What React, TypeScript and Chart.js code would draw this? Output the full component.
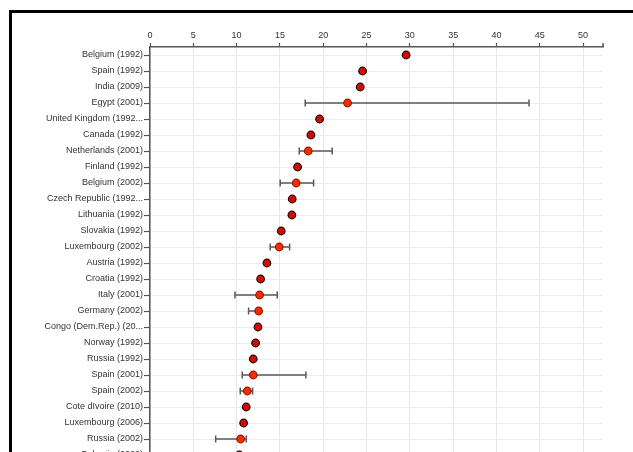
import React, { useEffect, useRef } from "react";
import { Chart, registerables } from "chart.js";

Chart.register(...registerables);

const categories = [
  "Belgium (1992)", "Spain (1992)", "India (2009)", "Egypt (2001)",
  "United Kingdom (1992...", "Canada (1992)", "Netherlands (2001)", "Finland (1992)",
  "Belgium (2002)", "Czech Republic (1992...", "Lithuania (1992)", "Slovakia (1992)",
  "Luxembourg (2002)", "Austria (1992)", "Croatia (1992)", "Italy (2001)",
  "Germany (2002)", "Congo (Dem.Rep.) (20...", "Norway (1992)", "Russia (1992)",
  "Spain (2001)", "Spain (2002)", "Cote dIvoire (2010)", "Luxembourg (2006)",
  "Russia (2002)", "Bulgaria (2002)",
];
const values = [
  29.57, 24.54, 24.27, 22.81, 19.58, 18.58, 18.27, 17.04, 16.88, 16.42, 16.38, 15.15, 14.92,
  13.5, 12.77, 12.65, 12.54, 12.46, 12.19, 11.92, 11.92, 11.23, 11.11, 10.81, 10.46, 10.3,
];
const lows: (number | null)[] = [
  null, null, null, 17.92, null, null, 17.23, null, 15.03, null, null, null, 13.88,
  null, null, 9.81, 11.38, null, null, null, 10.65, 10.42, null, null, 7.58, null,
];
const highs: (number | null)[] = [
  null, null, null, 43.76, null, null, 21.03, null, 18.89, null, null, null, 16.12,
  null, null, 14.69, 12.8, null, null, null, 18.0, 11.85, null, null, 11.11, null,
];
const xMin = 0;
const xMax = 52.3;
const xStep = 5;

const errorBarPlugin = {
  id: "errorBars",
  beforeDatasetsDraw(chart: any) {
    const { ctx, scales, chartArea } = chart;
    const xs = scales.x;
    const ys = scales.y;
    ctx.save();
    ctx.strokeStyle = "#5a5a5a";
    ctx.lineWidth = 1.5;
    for (let i = 0; i < categories.length; i++) {
      const lo = lows[i];
      const hi = highs[i];
      if (lo == null || hi == null) continue;
      const y = ys.getPixelForValue(i);
      const x1 = xs.getPixelForValue(lo);
      const x2 = xs.getPixelForValue(hi);
      ctx.beginPath();
      ctx.moveTo(x1, y);
      ctx.lineTo(x2, y);
      ctx.moveTo(x1, y - 3.5);
      ctx.lineTo(x1, y + 3.5);
      ctx.moveTo(x2, y - 3.5);
      ctx.lineTo(x2, y + 3.5);
      ctx.stroke();
    }
    ctx.beginPath();
    ctx.strokeStyle = "#555";
    ctx.lineWidth = 1.5;
    ctx.moveTo(chartArea.right, chartArea.top - 4);
    ctx.lineTo(chartArea.right, chartArea.top);
    ctx.stroke();
    ctx.restore();
  },
};

export default function App() {
  const ref = useRef<HTMLCanvasElement | null>(null);
  useEffect(() => {
    if (!ref.current) return;
    const hasErr = (i: number) => lows[i] != null;
    const chart = new Chart(ref.current, {
      type: "line",
      data: {
        labels: categories,
        datasets: [
          {
            data: values,
            showLine: false,
            pointRadius: 3.8,
            pointHoverRadius: 3.8,
            pointBorderWidth: 1.2,
            pointBackgroundColor: (c: any) => (hasErr(c.dataIndex) ? "#ff2a00" : "#cc1100"),
            pointBorderColor: (c: any) => (hasErr(c.dataIndex) ? "#8a1a00" : "#2a0000"),
          },
        ],
      },
      options: {
        indexAxis: "y",
        responsive: false,
        animation: false,
        layout: { padding: { left: 0, top: 0, right: 49, bottom: 20 } },
        plugins: { legend: { display: false }, tooltip: { enabled: false } },
        scales: {
          x: {
            type: "linear",
            position: "top",
            min: xMin,
            max: xMax,
            afterFit: (s: any) => {
              s.height = 34;
            },
            ticks: {
              stepSize: xStep,
              includeBounds: false,
              color: "#333",
              font: { family: "Arial, 'Liberation Sans', sans-serif", size: 9 },
              padding: 2,
              maxRotation: 0,
            },
            grid: {
              color: "#e6e6e6",
              lineWidth: 1,
              tickLength: 4,
              tickColor: "#555",
              tickWidth: 1.2,
            },
            border: { color: "#555", width: 1.5 },
          },
          y: {
            type: "category",
            offset: true,
            afterFit: (s: any) => {
              s.width = 138;
            },
            ticks: {
              color: "#333",
              font: { family: "Arial, 'Liberation Sans', sans-serif", size: 9 },
              padding: 1,
              autoSkip: false,
            },
            grid: {
              offset: false,
              color: "#ececec",
              lineWidth: 1,
              tickLength: 6,
              tickColor: "#555",
              tickWidth: 1.2,
            },
            border: { color: "#555", width: 1.5 },
          },
        },
      },
      plugins: [errorBarPlugin],
    } as any);
    return () => chart.destroy();
  }, []);

  return (
    <div style={{ position: "fixed", left: 0, top: 0, width: 633, height: 452, overflow: "hidden", background: "#fff" }}>
      <div
        style={{
          position: "absolute",
          left: 9,
          top: 10,
          width: 700,
          height: 520,
          border: "3px solid #000",
          background: "#fff",
        }}
      >
        <canvas ref={ref} width={640} height={470} style={{ display: "block", width: 640, height: 470 }} />
      </div>
    </div>
  );
}
